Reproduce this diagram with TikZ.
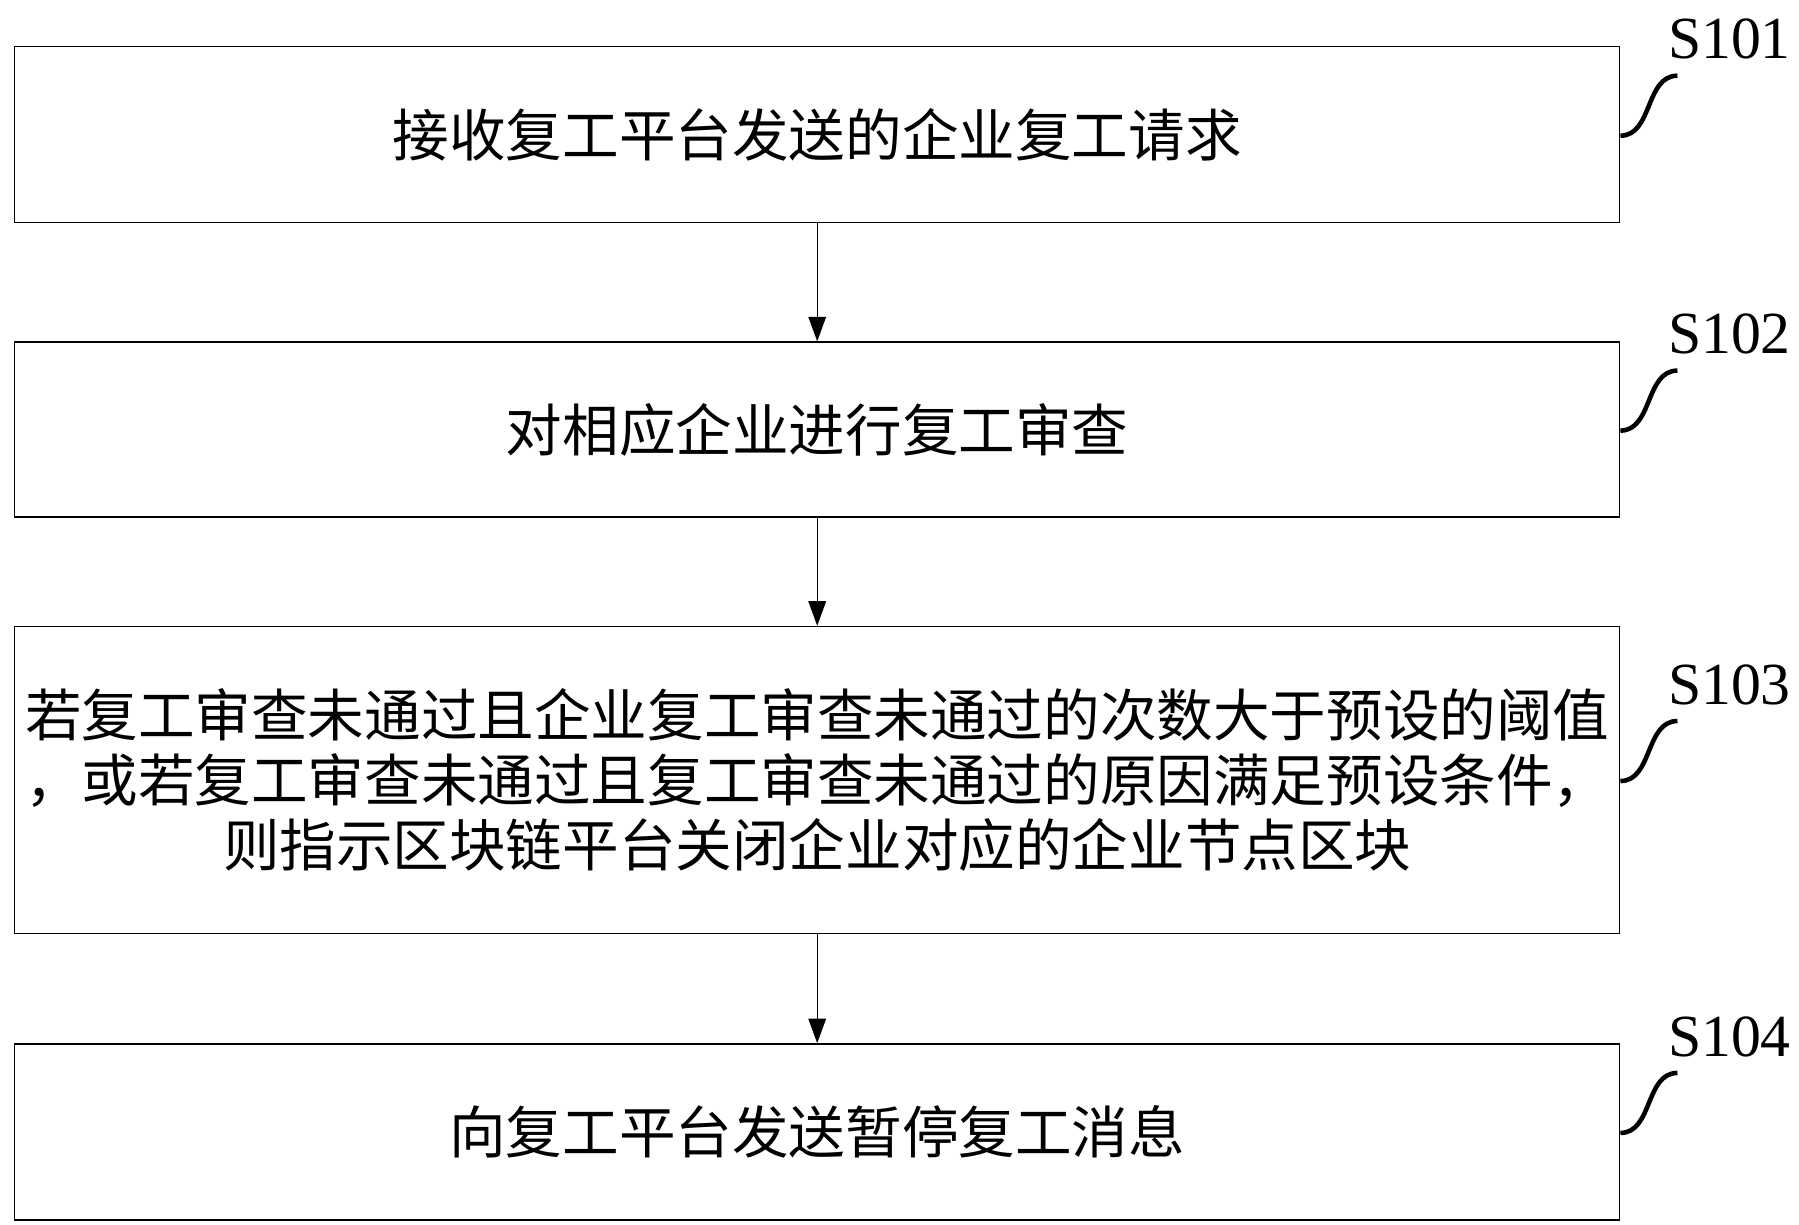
\documentclass[tikz,border=0pt]{standalone}
\usepackage{fontspec}
\setmainfont{Liberation Serif}
\newfontfamily\cjk{Noto Sans CJK SC}
\usetikzlibrary{positioning,arrows.meta}
\tikzset{
	stepbox/.style={draw=black, thin, minimum width=16.05cm, align=center, font=\cjk\fontsize{16.1}{18.5}\selectfont, inner sep=0pt},
	flow/.style={draw=black, -{Triangle[length=7pt,width=5pt]}},
	squig/.style={draw=black, line width=1.3pt},
	steplabel/.style={font=\fontsize{17}{20}\selectfont, inner sep=1pt},
}

\begin{document}
\begin{tikzpicture}[node distance=1.1cm]
    \useasboundingbox (0,0) rectangle (17.99,-12.24);
    \node[stepbox, minimum height=1.76cm, anchor=north west] (b1) at (0.14,-0.46) {接收复工平台发送的企业复工请求};
    \node[stepbox, minimum height=1.75cm, below=1.18cm of b1] (b2) {对相应企业进行复工审查};
    \node[stepbox, minimum height=3.07cm, below=1.08cm of b2] (b3) {若复工审查未通过且企业复工审查未通过的次数大于预设的阈值\\，或若复工审查未通过且复工审查未通过的原因满足预设条件，\\则指示区块链平台关闭企业对应的企业节点区块};
    \node[stepbox, minimum height=1.76cm, below=1.09cm of b3] (b4) {向复工平台发送暂停复工消息};

    \draw[flow] (b1) -- (b2);
    \draw[flow] (b2) -- (b3);
    \draw[flow] (b3) -- (b4);

    % step labels with hooks
    \foreach \b/\t in {b1/S101, b2/S102, b3/S103, b4/S104}{
        \coordinate (e\b) at ([yshift=-0.01cm]\b.east);
        \coordinate[above right=0.6cm and 0.57cm of e\b] (h\b);
        \draw[squig] (e\b) to[out=0,in=180] (h\b);
        \node[steplabel, above right=0.12cm and 0.52cm of h\b, anchor=south] (l\b) {\t};
    }
\end{tikzpicture}
\end{document}
